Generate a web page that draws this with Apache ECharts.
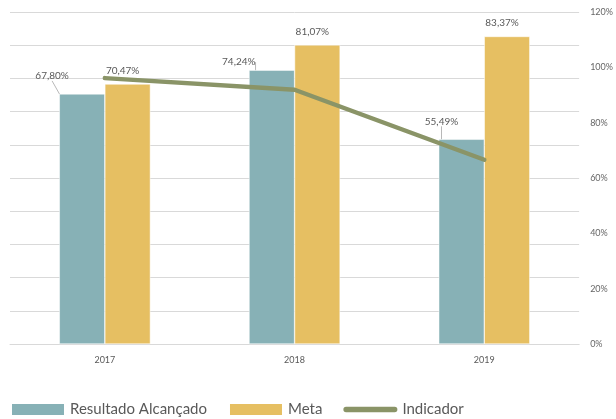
<!DOCTYPE html>
<html>
<head>
<meta charset="utf-8">
<script src="https://cdn.jsdelivr.net/npm/echarts@6/dist/echarts.min.js"></script>
<style>
  html, body { margin: 0; padding: 0; background: #fff; }
  #chart { width: 616px; height: 419px; }
</style>
</head>
<body>
<div id="chart"></div>
<script>
// dados
const anos = ["2017", "2018", "2019"];
const resultado = [67.80, 74.24, 55.49];
const meta = [70.47, 81.07, 83.37];
const indicador = [96.1, 91.9, 66.6];
const ticksDireita = [0, 20, 40, 60, 80, 100, 120];

const COR = {
  teal: "#87b1b6",
  amarelo: "#e6bf62",
  linha: "#8a9467",
  texto: "#595959",
  grade: "#d9d9d9",
};

const fmt = (v) => v.toFixed(2).replace(".", ",") + "%";

// deslocamento dos rótulos em relação ao topo da barra [dx, dy]
const desloc = {
  resultado: [[-30, -18], [-33, -8], [-20, -18]],
  meta: [[-5, -13], [-5, -13], [-5, -14]],
};

function layoutRotulo(tabela) {
  return (p) => {
    const [dx, dy] = tabela[p.dataIndex];
    const r = p.rect;
    return {
      x: r.x + r.width / 2 + dx,
      y: r.y + dy,
      align: "center",
      verticalAlign: "middle",
    };
  };
}

const chart = echarts.init(document.getElementById("chart"), null, { renderer: "canvas" });
chart.setOption({
  animation: false,
  textStyle: { fontFamily: "Lato, 'Open Sans', sans-serif", color: COR.texto },
  grid: { left: 10, right: 34, top: 12, bottom: 75 },
  legend: {
    bottom: 2,
    left: 10,
    padding: 0,
    itemWidth: 54,
    itemHeight: 13,
    itemGap: 21,
    textStyle: { fontSize: 15, color: COR.texto },
    data: [
      { name: "Resultado Alcançado", icon: "rect" },
      { name: "Meta", icon: "rect" },
      { name: "Indicador", icon: "path://M3,0 L57,0 A3,3 0 0 1 57,6 L3,6 A3,3 0 0 1 3,0 Z" },
    ],
  },
  xAxis: {
    type: "category",
    data: anos,
    axisLine: { lineStyle: { color: COR.grade } },
    axisTick: { show: false },
    axisLabel: { fontSize: 9, color: COR.texto, margin: 12 },
  },
  yAxis: [
    {
      type: "value",
      min: 0,
      max: 90,
      interval: 9,
      axisLabel: { show: false },
      splitLine: { lineStyle: { color: COR.grade } },
    },
    {
      type: "value",
      min: ticksDireita[0],
      max: ticksDireita[ticksDireita.length - 1],
      interval: 20,
      splitLine: { show: false },
      axisLabel: { fontSize: 9, color: "#666", formatter: "{value}%", margin: 11 },
    },
  ],
  series: [
    {
      name: "Resultado Alcançado",
      type: "bar",
      data: resultado,
      barWidth: "24%",
      barGap: "0%",
      itemStyle: { color: COR.teal, borderColor: "#fff", borderWidth: 0.5 },
      label: { show: true, position: "top", fontSize: 10, color: COR.texto, formatter: (p) => fmt(p.value) },
      labelLayout: layoutRotulo(desloc.resultado),
      labelLine: { show: true, length2: 0, lineStyle: { color: "#a6a6a6", width: 0.8 } },
    },
    {
      name: "Meta",
      type: "bar",
      data: meta,
      barWidth: "24%",
      itemStyle: { color: COR.amarelo, borderColor: "#fff", borderWidth: 0.5 },
      label: { show: true, position: "top", fontSize: 10, color: COR.texto, formatter: (p) => fmt(p.value) },
      labelLayout: layoutRotulo(desloc.meta),
    },
    {
      name: "Indicador",
      type: "line",
      yAxisIndex: 1,
      data: indicador,
      symbol: "none",
      lineStyle: { color: COR.linha, width: 4.5, cap: "round" },
      itemStyle: { color: COR.linha },
      z: 5,
    },
  ],
});
</script>
</body>
</html>
